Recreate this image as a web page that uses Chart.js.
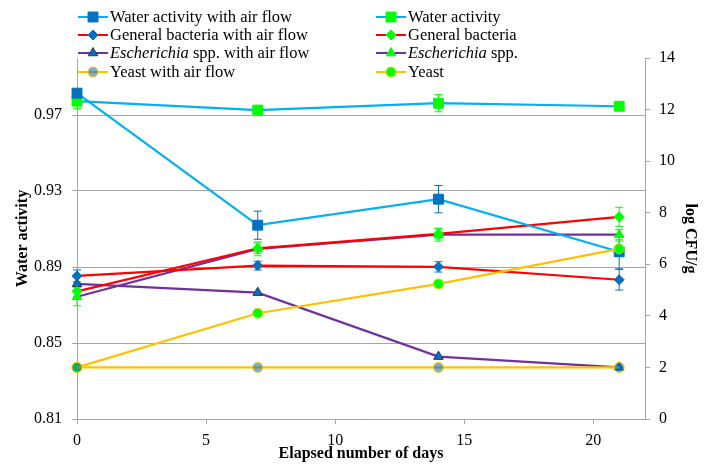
<!DOCTYPE html>
<html>
<head>
<meta charset="utf-8">
<script src="https://cdn.jsdelivr.net/npm/chart.js@4/dist/chart.umd.min.js"></script>
<style>
html, body { margin: 0; padding: 0; background: #fff; }
</style>
</head>
<body>
<canvas id="myChart" width="704" height="468"></canvas>
<script>
// days on the x axis
const days = [0, 7, 14, 21];
const xTicks = [0, 5, 10, 15, 20];
const leftTicks = [0.81, 0.85, 0.89, 0.93, 0.97];
const rightTicks = [0, 2, 4, 6, 8, 10, 12, 14];

// water activity (left axis)
const waterAir = [0.9815, 0.912, 0.9257, 0.898];
const waterAirErr = [0.001, 0.0074, 0.0072, 0.009];
const water = [0.9773, 0.9726, 0.9762, 0.9746];
const waterErr = [0.004, 0.001, 0.0045, 0.0015];

// log CFU/g (right axis)
const bactAir = [5.55, 5.95, 5.9, 5.4];
const bactAirErr = [0.23, 0.17, 0.2, 0.4];
const bact = [4.95, 6.62, 7.18, 7.84];
const bactErr = [0.2, 0.2, 0.2, 0.37];
const eschAir = [5.24, 4.9, 2.42, 2.0];
const eschAirErr = [0, 0, 0, 0];
const esch = [4.74, 6.6, 7.15, 7.15];
const eschErr = [0.35, 0.27, 0.25, 0.2];
const yeastAir = [2, 2, 2, 2];
const yeastAirErr = [0, 0, 0, 0];
const yeast = [2, 4.1, 5.24, 6.6];
const yeastErr = [0, 0, 0.1, 0.3];

const BLUE = '#0070C0', GREEN = '#00FF00', SKY = '#00B0F0', RED = '#FF0000', PURPLE = '#7030A0', GOLD = '#FFC000';
const serif = "'Liberation Serif', 'Times New Roman', serif";

function pts(vals) {
	return days.map((d, i) => ({x: d, y: vals[i]}));
}

function series(label, vals, errs, axis, line, style, fill, stroke, r, order) {
	return {
		label: label,
		data: pts(vals),
		errors: errs,
		errorColor: fill === GREEN ? GREEN : BLUE,
		yAxisID: axis,
		borderColor: line,
		borderWidth: 2.2,
		pointStyle: style,
		pointRadius: r,
		pointBackgroundColor: fill,
		pointBorderColor: stroke,
		pointBorderWidth: 1,
		tension: 0,
		clip: false,
		order: order
	};
}

const datasets = [
	series('Water activity with air flow', waterAir, waterAirErr, 'yL', SKY, 'rect', BLUE, BLUE, 7, 2),
	series('Water activity', water, waterErr, 'yL', SKY, 'rect', GREEN, GREEN, 7, 3),
	series('General bacteria with air flow', bactAir, bactAirErr, 'yR', RED, 'rectRot', BLUE, BLUE, 5, 4),
	series('General bacteria', bact, bactErr, 'yR', RED, 'rectRot', GREEN, GREEN, 5, 5),
	series('Escherichia spp. with air flow', eschAir, eschAirErr, 'yR', PURPLE, 'triangle', BLUE, '#1F3864', 5.5, 6),
	series('Escherichia spp.', esch, eschErr, 'yR', PURPLE, 'triangle', GREEN, GREEN, 5.5, 7),
	series('Yeast with air flow', yeastAir, yeastAirErr, 'yR', GOLD, 'circle', 'rgba(0,112,192,0.55)', GOLD, 5, 0),
	series('Yeast', yeast, yeastErr, 'yR', GOLD, 'circle', GREEN, '#C8E000', 5, 1)
];

function drawMarker(c, style, x, y, r, fill, stroke) {
	c.beginPath();
	if (style === 'rect') {
		let s = r * Math.SQRT1_2;
		c.rect(x - s, y - s, 2 * s, 2 * s);
	} else if (style === 'rectRot') {
		c.moveTo(x, y - r); c.lineTo(x + r, y); c.lineTo(x, y + r); c.lineTo(x - r, y); c.closePath();
	} else if (style === 'triangle') {
		for (let k = 0; k < 3; k++) {
			let a = k * 2 * Math.PI / 3;
			let px = x + Math.sin(a) * r, py = y - Math.cos(a) * r;
			if (k === 0) c.moveTo(px, py); else c.lineTo(px, py);
		}
		c.closePath();
	} else {
		c.arc(x, y, r, 0, Math.PI * 2);
	}
	c.fillStyle = fill;
	c.fill();
	c.strokeStyle = stroke;
	c.lineWidth = 1;
	c.stroke();
}

const errorBars = {
	id: 'errorBars',
	beforeDatasetsDraw(chart) {
		const c = chart.ctx;
		chart.data.datasets.forEach((ds, i) => {
			const meta = chart.getDatasetMeta(i);
			const ys = chart.scales[ds.yAxisID];
			c.save();
			c.strokeStyle = ds.errorColor;
			c.lineWidth = 1;
			meta.data.forEach((p, j) => {
				let e = ds.errors[j];
				if (!e) return;
				let y0 = ys.getPixelForValue(ds.data[j].y - e);
				let y1 = ys.getPixelForValue(ds.data[j].y + e);
				c.beginPath();
				c.moveTo(p.x, y0); c.lineTo(p.x, y1);
				c.moveTo(p.x - 4, y0); c.lineTo(p.x + 4, y0);
				c.moveTo(p.x - 4, y1); c.lineTo(p.x + 4, y1);
				c.stroke();
			});
			c.restore();
		});
	}
};

// two column legend with italic genus name
const topLegend = {
	id: 'topLegend',
	afterDraw(chart) {
		const c = chart.ctx;
		const cols = [78, 376];
		const rows = [17, 35, 53, 72];
		c.save();
		chart.data.datasets.forEach((ds, i) => {
			let x0 = cols[i % 2], y = rows[Math.floor(i / 2)];
			c.strokeStyle = ds.borderColor;
			c.lineWidth = 2;
			c.beginPath();
			c.moveTo(x0, y); c.lineTo(x0 + 30, y);
			c.stroke();
			drawMarker(c, ds.pointStyle, x0 + 15, y, ds.pointRadius, ds.pointBackgroundColor, ds.pointBorderColor);
			let parts = [];
			if (ds.label.indexOf('Escherichia') === 0) {
				parts.push(['italic ', 'Escherichia']);
				parts.push(['', ds.label.slice(11)]);
			} else {
				parts.push(['', ds.label]);
			}
			let tx = x0 + 32;
			c.fillStyle = '#000';
			c.textBaseline = 'middle';
			c.textAlign = 'left';
			parts.forEach(p => {
				c.font = p[0] + '16.5px ' + serif;
				c.fillText(p[1], tx, y + 1);
				tx += c.measureText(p[1]).width;
			});
		});
		c.restore();
	}
};

const tickFont = {family: serif, size: 16};
const titleFont = {family: serif, size: 16, weight: 'bold'};
const gridGray = '#a6a6a6';

new Chart(document.getElementById('myChart'), {
	type: 'line',
	data: {datasets: datasets},
	options: {
		responsive: false,
		animation: false,
		layout: {padding: {top: 58, left: 0, right: 0, bottom: 0}},
		plugins: {legend: {display: false}, tooltip: {enabled: false}},
		scales: {
			x: {
				type: 'linear',
				min: 0,
				max: 22,
				afterBuildTicks: s => { s.ticks = xTicks.map(v => ({value: v})); },
				afterFit: s => { s.height = 49; },
				grid: {drawOnChartArea: false, color: gridGray, tickLength: 5},
				border: {color: gridGray},
				ticks: {font: tickFont, color: '#000', padding: 7},
				title: {display: true, text: 'Elapsed number of days', font: titleFont, color: '#000', padding: {top: 0, bottom: 5}}
			},
			yL: {
				position: 'left',
				min: 0.81,
				max: 1.0,
				afterBuildTicks: s => { s.ticks = leftTicks.map(v => ({value: v})); },
				afterFit: s => { s.width = 77; },
				grid: {color: gridGray, tickLength: 5},
				border: {color: gridGray},
				ticks: {font: tickFont, color: '#000', padding: 10, callback: v => v.toFixed(2)},
				title: {display: true, text: 'Water activity', font: titleFont, color: '#000', padding: {top: 13, bottom: 0}}
			},
			yR: {
				position: 'right',
				min: 0,
				max: 14,
				afterBuildTicks: s => { s.ticks = rightTicks.map(v => ({value: v})); },
				afterFit: s => { s.width = 59; },
				grid: {drawOnChartArea: false, color: gridGray, tickLength: 5},
				border: {color: gridGray},
				ticks: {font: tickFont, color: '#000', padding: 9},
				title: {display: true, text: 'log CFU/g', font: titleFont, color: '#000', padding: {top: 4, bottom: 0}}
			}
		}
	},
	plugins: [errorBars, topLegend]
});
</script>
</body>
</html>
